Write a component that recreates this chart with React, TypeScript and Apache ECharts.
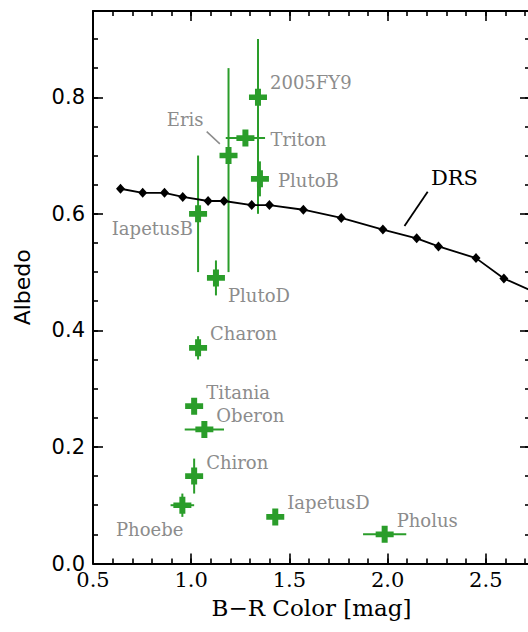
import React, { useEffect, useRef } from 'react';
import * as echarts from 'echarts';

// ---- data ----
const objectNames = ['2005FY9', 'Triton', 'Eris', 'PlutoB', 'IapetusB', 'PlutoD', 'Charon', 'Titania', 'Oberon', 'Chiron', 'Phoebe', 'IapetusD', 'Pholus'];
const objectColor = [1.34, 1.276, 1.19, 1.35, 1.035, 1.126, 1.035, 1.015, 1.067, 1.015, 0.955, 1.428, 1.985];
const objectAlbedo = [0.80, 0.73, 0.70, 0.66, 0.60, 0.49, 0.37, 0.27, 0.23, 0.15, 0.10, 0.08, 0.05];
const colorErr = [0, 0.10, 0, 0, 0, 0, 0, 0, 0.10, 0, 0.06, 0, 0.11];
const albedoErrMinus = [0.20, 0, 0.20, 0.03, 0.10, 0.03, 0.02, 0, 0, 0.03, 0.02, 0, 0];
const albedoErrPlus = [0.10, 0, 0.15, 0.03, 0.10, 0.03, 0.02, 0, 0, 0.03, 0.02, 0, 0];

const drsColor = [0.64, 0.753, 0.864, 0.957, 1.086, 1.167, 1.308, 1.398, 1.571, 1.764, 1.976, 2.148, 2.259, 2.45, 2.592, 2.80];
const drsAlbedo = [0.643, 0.636, 0.636, 0.629, 0.622, 0.622, 0.615, 0.615, 0.607, 0.593, 0.573, 0.558, 0.544, 0.524, 0.489, 0.458];

const xTickLabels = ['0.5', '1.0', '1.5', '2.0', '2.5'];
const yTickLabels = ['0.0', '0.2', '0.4', '0.6', '0.8'];

// annotation anchors (data coords)
const erisLeader = [[1.079, 0.741], [1.146, 0.720]];
const drsLeader = [[2.204, 0.638], [2.086, 0.579]];
const drsLabelAt = [2.218, 0.661];

// ---- layout / style ----
const GREEN = '#2a9d2a';
const GRAY = '#8c8c8c';
const SERIF = '"DejaVu Serif", serif';
const SANS = '"DejaVu Sans", sans-serif';

const labelPlace: Record<string, [string, number, number]> = {
  '2005FY9': ['left', 12, -15],
  Triton: ['left', 25, 1],
  Eris: ['right', -25, -36],
  PlutoB: ['left', 18, 2],
  IapetusB: ['right', -5, 15],
  PlutoD: ['left', 12, 18],
  Charon: ['left', 12, -14],
  Titania: ['left', 12, -14],
  Oberon: ['left', 12, -14],
  Chiron: ['left', 12, -14],
  Phoebe: ['right', 1, 24],
  IapetusD: ['left', 12, -14],
  Pholus: ['left', 12, -14],
};

const XMIN = 0.5, XMAX = 2.725, YMIN = 0, YMAX = 0.948;

function isMult(v: number, step: number) {
  const r = v / step;
  return Math.abs(r - Math.round(r)) < 1e-6;
}

export default function App() {
  const ref = useRef<HTMLDivElement>(null);
  useEffect(() => {
    const chart = echarts.init(ref.current!, null, { renderer: 'svg' });

    const axisLineStyle = { color: '#000', width: 2 };
    const majorTick = (len: number) => ({ show: true, inside: true, length: len, lineStyle: { color: '#000', width: 1.6 } });

    const xMajorLabel = (v: number) => {
      if (!isMult(v, 0.5)) return '';
      const idx = Math.round((v - 0.5) / 0.5);
      return xTickLabels[idx] ?? '';
    };
    const yMajorLabel = (v: number) => {
      if (!isMult(v, 0.2)) return '';
      const idx = Math.round(v / 0.2);
      return yTickLabels[idx] ?? '';
    };

    const xBase = { type: 'value', min: XMIN, max: XMAX, splitLine: { show: false }, axisLine: { onZero: false, show: false } };
    const yBase = { type: 'value', min: YMIN, max: YMAX, splitLine: { show: false }, axisLine: { onZero: false, show: false } };

    const errData = objectNames.map((n, i) => [
      objectColor[i], objectAlbedo[i],
      objectColor[i] - colorErr[i], objectColor[i] + colorErr[i],
      objectAlbedo[i] - albedoErrMinus[i], objectAlbedo[i] + albedoErrPlus[i],
    ]);

    const option: any = {
      animation: false,
      backgroundColor: '#fff',
      grid: { left: 93, top: 11, right: 0, bottom: 68.5, containLabel: false },
      xAxis: [
        {
          ...xBase, position: 'bottom', interval: 0.5,
          axisLine: { show: true, onZero: false, lineStyle: axisLineStyle },
          axisTick: majorTick(10),
          axisLabel: { formatter: xMajorLabel, color: '#000', fontFamily: SERIF, fontSize: 21, margin: 6 },
          name: 'B\u2212R Color [mag]', nameLocation: 'middle', nameGap: 33,
          nameTextStyle: { color: '#000', fontFamily: SERIF, fontSize: 23 },
        },
        { ...xBase, position: 'bottom', interval: 0.1, axisTick: majorTick(5), axisLabel: { show: false } },
        {
          ...xBase, position: 'top', interval: 0.5,
          axisLine: { show: true, onZero: false, lineStyle: axisLineStyle },
          axisTick: majorTick(10), axisLabel: { show: false },
        },
        { ...xBase, position: 'top', interval: 0.1, axisTick: majorTick(5), axisLabel: { show: false } },
      ],
      yAxis: [
        {
          ...yBase, position: 'left', interval: 0.2,
          axisLine: { show: true, onZero: false, lineStyle: axisLineStyle },
          axisTick: majorTick(10),
          axisLabel: { formatter: yMajorLabel, color: '#000', fontFamily: SANS, fontSize: 21, margin: 8 },
          name: 'Albedo', nameLocation: 'middle', nameGap: 60,
          nameTextStyle: { color: '#000', fontFamily: SANS, fontSize: 22 },
        },
        { ...yBase, position: 'left', interval: 0.05, axisTick: majorTick(5), axisLabel: { show: false } },
        {
          ...yBase, position: 'right', interval: 0.2,
          axisLine: { show: true, onZero: false, lineStyle: axisLineStyle },
          axisTick: majorTick(10), axisLabel: { show: false },
        },
        { ...yBase, position: 'right', interval: 0.05, axisTick: majorTick(5), axisLabel: { show: false } },
      ],
      series: [
        {
          type: 'custom',
          name: 'errors',
          xAxisIndex: 0, yAxisIndex: 0,
          data: errData,
          encode: { x: 0, y: 1 },
          z: 2,
          renderItem: (_params: any, api: any) => {
            const x = api.value(0), y = api.value(1);
            const xlo = api.value(2), xhi = api.value(3), ylo = api.value(4), yhi = api.value(5);
            const children: any[] = [];
            const style = { stroke: GREEN, lineWidth: 2 };
            if (yhi - ylo > 1e-9) {
              const a = api.coord([x, ylo]), b = api.coord([x, yhi]);
              children.push({ type: 'line', shape: { x1: a[0], y1: a[1], x2: b[0], y2: b[1] }, style });
            }
            if (xhi - xlo > 1e-9) {
              const a = api.coord([xlo, y]), b = api.coord([xhi, y]);
              children.push({ type: 'line', shape: { x1: a[0], y1: a[1], x2: b[0], y2: b[1] }, style });
            }
            return { type: 'group', children };
          },
        },
        {
          type: 'scatter',
          name: 'objects',
          xAxisIndex: 0, yAxisIndex: 0,
          z: 3,
          symbol: 'path://M6,0H12V6H18V12H12V18H6V12H0V6H6Z',
          symbolSize: [18, 17],
          itemStyle: { color: GREEN, opacity: 1 },
          data: objectNames.map((n, i) => {
            const p = labelPlace[n];
            return {
              name: n,
              value: [objectColor[i], objectAlbedo[i]],
              label: { align: p[0], offset: [p[1], p[2]] },
            };
          }),
          label: {
            show: true,
            position: 'inside',
            verticalAlign: 'middle',
            formatter: '{b}',
            color: GRAY,
            fontFamily: SERIF,
            fontSize: 18,
          },
          markLine: {
            silent: true,
            symbol: 'none',
            label: { show: false },
            lineStyle: { color: GRAY, width: 1.5, type: 'solid' },
            data: [[{ coord: erisLeader[0] }, { coord: erisLeader[1] }]],
          },
        },
        {
          type: 'line',
          name: 'DRS',
          xAxisIndex: 0, yAxisIndex: 0,
          z: 4,
          data: drsColor.map((c, i) => [c, drsAlbedo[i]]),
          symbol: 'diamond',
          symbolSize: [9, 10],
          showAllSymbol: true,
          itemStyle: { color: '#000' },
          lineStyle: { color: '#000', width: 1.8 },
          markLine: {
            silent: true,
            symbol: 'none',
            label: { show: false },
            lineStyle: { color: '#000', width: 1.8, type: 'solid' },
            data: [[{ coord: drsLeader[0] }, { coord: drsLeader[1] }]],
          },
          markPoint: {
            silent: true,
            symbol: 'circle',
            symbolSize: 1,
            itemStyle: { color: 'rgba(0,0,0,0)' },
            data: [{
              coord: drsLabelAt,
              label: {
                show: true, formatter: 'DRS', position: 'right', distance: 0,
                color: '#000', fontFamily: SERIF, fontSize: 21,
              },
            }],
          },
        },
      ],
    };

    chart.setOption(option);
    return () => chart.dispose();
  }, []);

  return <div ref={ref} style={{ position: 'fixed', left: 0, top: 0, width: 533, height: 632, background: '#fff' }} />;
}
